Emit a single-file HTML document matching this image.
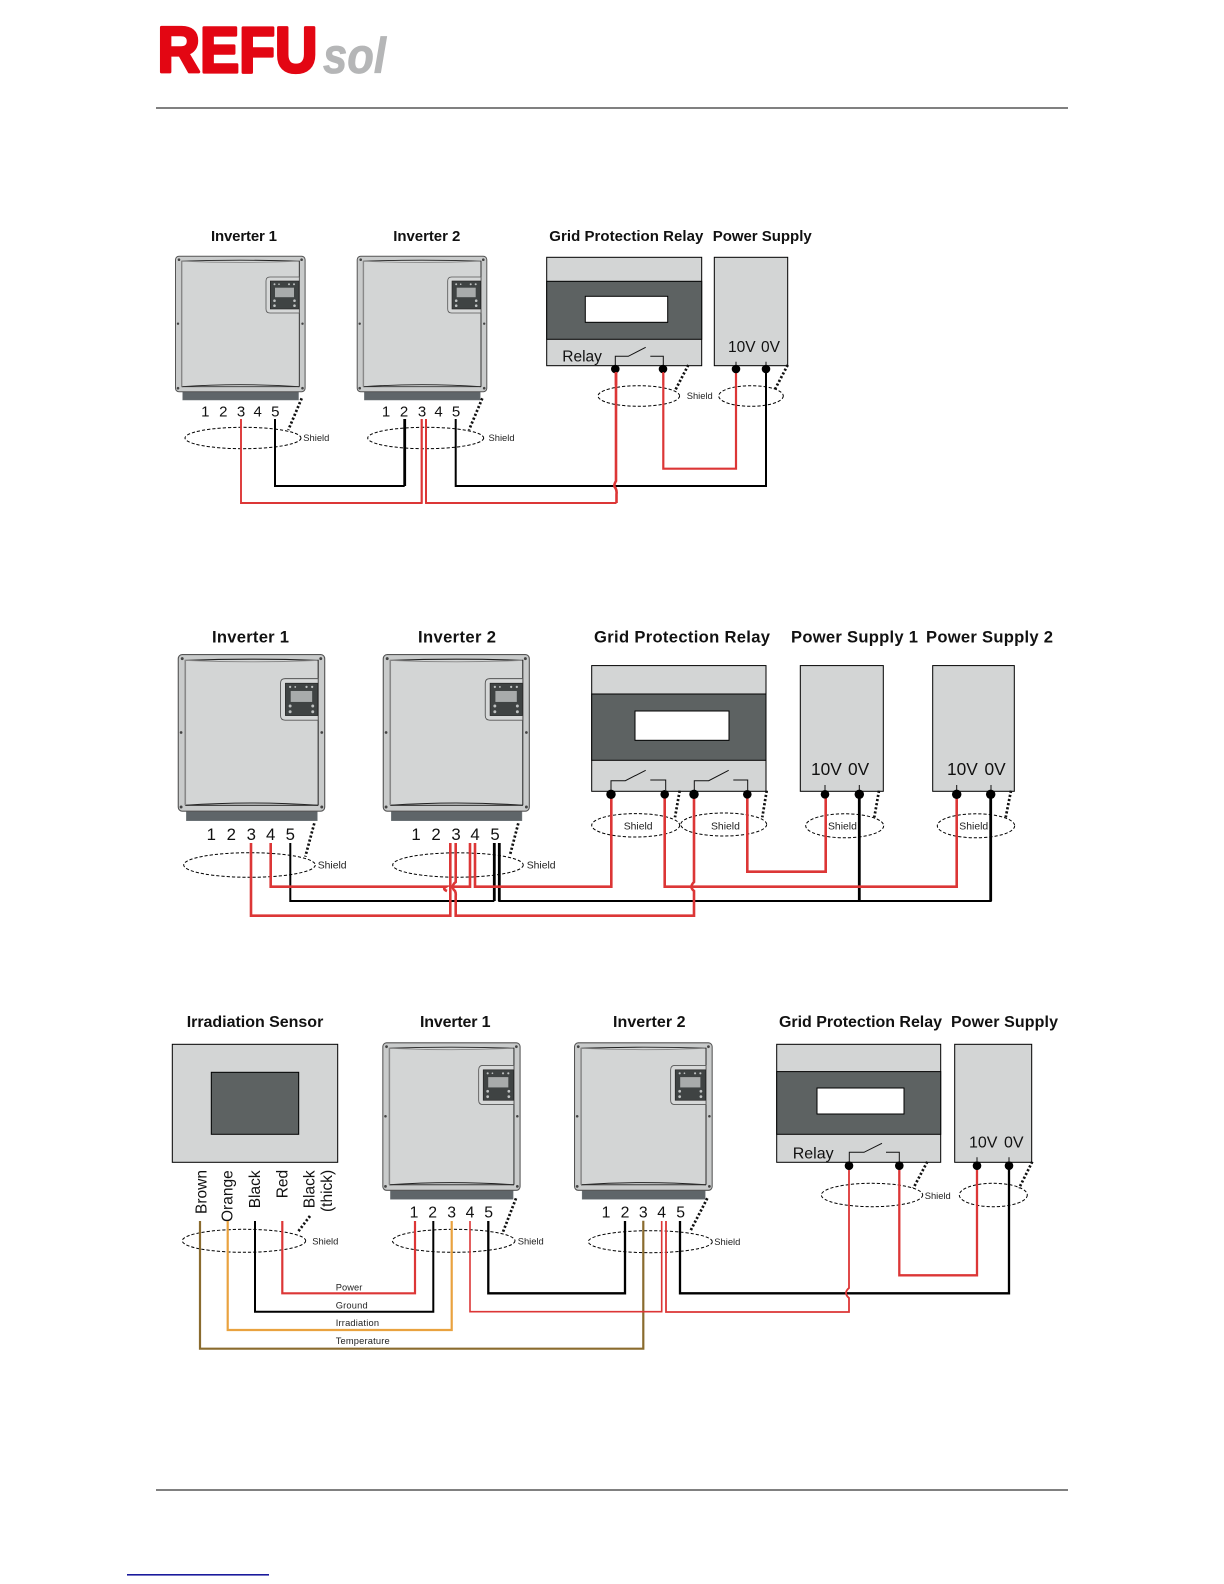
<!DOCTYPE html>
<html><head><meta charset="utf-8"><title>Wiring diagrams</title>
<style>
html,body{margin:0;padding:0;background:#fff}
svg{display:block}
text{font-family:"Liberation Sans",sans-serif;fill:#111}
.t{font-weight:bold;font-size:15px}
.t2{font-weight:bold;font-size:16.6px}
.s{font-size:9.4px;fill:#222}
.s2{font-size:10.4px;fill:#222}
.n{font-size:15px}
.n2{font-size:16.8px}
.n3{font-size:15.8px}
.v{font-size:15.5px}
.v2{font-size:17.3px}
.r{fill:none;stroke:#dc3636;stroke-width:1.9}
.rt{fill:none;stroke:#dc3636;stroke-width:2.6}
.k{fill:none;stroke:#000;stroke-width:2}
.kt{fill:none;stroke:#000;stroke-width:2.8}
.e{fill:none;stroke:#000;stroke-width:1;stroke-dasharray:3.2 2}
.d{fill:none;stroke:#111;stroke-width:2.7;stroke-dasharray:2.2 2}
.b{fill:#d3d5d5;stroke:#000;stroke-width:1}
.dk{fill:#5d6262;stroke:#000;stroke-width:1}
.wh{fill:#fff;stroke:#000;stroke-width:1}
.sw{fill:none;stroke:#111;stroke-width:1}
</style></head>
<body>
<svg xmlns="http://www.w3.org/2000/svg" width="1224" height="1584" viewBox="0 0 1224 1584">
<defs>
<g id="inv">
<rect x="7.7" y="134" width="115.8" height="10.3" fill="#5f6569" stroke="#6d7478" stroke-width=".5"/>
<rect x=".5" y=".5" width="129.6" height="135.6" rx="3.5" fill="#c9cbcb" stroke="#555" stroke-width="1"/>
<rect x="6.7" y="5" width="117.6" height="126" fill="#d3d5d5"/>
<path d="M6.7 5.5Q65 3.5 124.3 5.5" fill="none" stroke="#222" stroke-width=".9"/>
<path d="M6.7 5.5Q65 8 124.3 5.5" fill="none" stroke="#888" stroke-width=".8"/>
<path d="M6.7 131Q65 127 124.3 131" fill="none" stroke="#222" stroke-width=".9"/>
<path d="M6.7 131H124.3" fill="none" stroke="#333" stroke-width=".9"/>
<path d="M6.7 5V131" fill="none" stroke="#888" stroke-width="1.4"/>
<path d="M124.3 5V131" fill="none" stroke="#222" stroke-width=".9"/>
<path d="M124.3 21.3H95Q91 21.3 91 25.3V53.3Q91 57.3 95 57.3H124.3Z" fill="#d6d8d8" stroke="#555" stroke-width=".8"/>
<rect x="95.3" y="25.3" width="28.7" height="28" fill="#3f4343" stroke="#222" stroke-width=".6"/>
<rect x="100" y="32" width="19" height="9.5" fill="#a8abab"/>
<g fill="#bfc2c2">
<circle cx="99.5" cy="28.5" r="1"/><circle cx="104" cy="28.5" r=".8"/><circle cx="114" cy="28.5" r="1"/><circle cx="119" cy="28.5" r="1"/>
<circle cx="99.5" cy="45" r="1.3"/><circle cx="99.5" cy="50" r="1.3"/><circle cx="119.5" cy="45" r="1.3"/><circle cx="119.5" cy="50" r="1.3"/>
</g>
<g fill="#444">
<circle cx="4" cy="4" r="1.3"/><circle cx="126.6" cy="4" r="1.3"/>
<circle cx="3" cy="68" r="1.2"/><circle cx="127.5" cy="68" r="1.2"/>
<circle cx="3" cy="132.5" r="1.3"/><circle cx="127.5" cy="132.5" r="1.3"/>
</g>
</g>
<circle id="p" r="4.3" fill="#000"/>
</defs>
<rect width="1224" height="1584" fill="#fff"/>

<!-- logo -->
<text x="157.5" y="71.8" font-size="64" font-weight="bold" textLength="160" lengthAdjust="spacingAndGlyphs" style="fill:#e30613;stroke:#e30613;stroke-width:3.2;stroke-linejoin:round">REFU</text>
<text x="323" y="73" font-size="50" font-weight="bold" font-style="italic" textLength="63" lengthAdjust="spacingAndGlyphs" style="fill:#b5b6b7;stroke:#b5b6b7;stroke-width:.8">sol</text>
<rect x="156" y="107" width="912" height="2" fill="#808080"/>
<rect x="156" y="1489" width="912" height="2" fill="#808080"/>
<rect x="127" y="1574" width="142" height="1.6" fill="#1a1a9c"/>

<!-- DIAGRAM 1 -->
<text class="t" x="211" y="241" textLength="66" lengthAdjust="spacing">Inverter 1</text>
<text class="t" x="393.3" y="241" textLength="67" lengthAdjust="spacing">Inverter 2</text>
<text class="t" x="549.3" y="241" textLength="154" lengthAdjust="spacing">Grid Protection Relay</text>
<text class="t" x="712.7" y="241" textLength="99" lengthAdjust="spacing">Power Supply</text>
<use href="#inv" transform="translate(175 255.7)"/>
<use href="#inv" transform="translate(356.7 255.7)"/>
<g text-anchor="middle">
<text class="n" x="205.3" y="416.7">1</text><text class="n" x="223.3" y="416.7">2</text><text class="n" x="241" y="416.7">3</text><text class="n" x="257.7" y="416.7">4</text><text class="n" x="275.3" y="416.7">5</text>
<text class="n" x="386" y="416.7">1</text><text class="n" x="404" y="416.7">2</text><text class="n" x="422" y="416.7">3</text><text class="n" x="438.5" y="416.7">4</text><text class="n" x="456" y="416.7">5</text>
</g>
<rect class="b" x="546.7" y="257.3" width="155" height="108.4"/>
<rect class="dk" x="546.7" y="281.3" width="155" height="58"/>
<rect class="wh" x="585.3" y="296.3" width="82.4" height="26"/>
<text class="v" x="562.3" y="361.7">Relay</text>
<path class="sw" d="M615.3 365.7V356.3H628.3L645.7 347.3M650.3 356.3H663.3V365.7"/>
<rect class="b" x="714.3" y="257.3" width="73.4" height="108.4"/>
<text class="v" x="728" y="352">10V</text><text class="v" x="761" y="352">0V</text>
<path class="sw" d="M736 361.7V369M766 361.7V369"/>
<path class="d" d="M301.7 398.3L288.3 430M482.3 398.3L469 430M688.3 365L675 390.7M787.7 365L775 389.3"/>
<ellipse class="e" cx="243" cy="438" rx="58" ry="10.7"/>
<ellipse class="e" cx="425.7" cy="438" rx="58" ry="10.7"/>
<ellipse class="e" cx="638.8" cy="396" rx="40.8" ry="10.3"/>
<ellipse class="e" cx="751" cy="396" rx="32.3" ry="10.3"/>
<text class="s" x="303.3" y="441">Shield</text>
<text class="s" x="488.5" y="441">Shield</text>
<text class="s" x="686.7" y="399">Shield</text>
<path class="k" d="M275 419V486H404.7"/>
<path class="kt" d="M404.7 419V486"/>
<path class="k" d="M455.7 419V486H766V369"/>
<path class="r" d="M241 419V503H421.7V419"/>
<path class="rt" d="M616 369V481Q613 486 615.5 488Q617 491 616.5 494V503"/>
<path class="r" d="M426 419V503H616.5"/>
<path class="rt" d="M421.7 419V503M426 419V503" style="stroke-width:2"/>
<path class="r" d="M663.3 369V468.7H736V369" style="stroke-width:2.2"/>
<use href="#p" x="615.3" y="369"/><use href="#p" x="663" y="369"/><use href="#p" x="736" y="369"/><use href="#p" x="766" y="369"/>
<path class="rt" d="M616 372V385"/>
<path class="r" d="M663.3 372V385"/>

<!-- DIAGRAM 2 -->
<text class="t2" x="212" y="642.4" textLength="77" lengthAdjust="spacing">Inverter 1</text>
<text class="t2" x="418" y="642.4" textLength="78" lengthAdjust="spacing">Inverter 2</text>
<text class="t2" x="594" y="642.4" textLength="176" lengthAdjust="spacing">Grid Protection Relay</text>
<text class="t2" x="791" y="642.4" textLength="127" lengthAdjust="spacing">Power Supply 1</text>
<text class="t2" x="926" y="642.4" textLength="127" lengthAdjust="spacing">Power Supply 2</text>
<use href="#inv" transform="translate(177.7 654) scale(1.13 1.155)"/>
<use href="#inv" transform="translate(382.7 654) scale(1.127 1.155)"/>
<g text-anchor="middle">
<text class="n2" x="211.3" y="840">1</text><text class="n2" x="231.3" y="840">2</text><text class="n2" x="251.3" y="840">3</text><text class="n2" x="270.7" y="840">4</text><text class="n2" x="290.3" y="840">5</text>
<text class="n2" x="416" y="840">1</text><text class="n2" x="436" y="840">2</text><text class="n2" x="456" y="840">3</text><text class="n2" x="475" y="840">4</text><text class="n2" x="495" y="840">5</text>
</g>
<rect class="b" x="591.7" y="665.6" width="174.3" height="125.7"/>
<rect class="dk" x="591.7" y="694" width="174.3" height="66.3"/>
<rect class="wh" x="635" y="711" width="94" height="29.3"/>
<path class="sw" d="M611 790V780.7H625.3L645.7 770.3M650.3 780H665.7V790M694.3 790V780.7H708.7L728.7 770.3M733.3 780H747.7V790"/>
<rect class="b" x="800.3" y="665.6" width="83" height="125.7"/>
<rect class="b" x="932.7" y="665.6" width="81.6" height="125.7"/>
<text class="v2" x="811" y="775">10V</text><text class="v2" x="848" y="775">0V</text>
<text class="v2" x="947" y="775">10V</text><text class="v2" x="984.5" y="775">0V</text>
<path class="sw" d="M825 785V794M859.3 785V794M956.7 785V794M991 785V794"/>
<path class="d" d="M314.3 823.3L305.3 856.7M518.3 823.3L510 855M679.7 790.7L675 817.3M766.7 790.7L762.3 817.3M879 790.7L874.3 817.3M1011 790.7L1005.7 817.3"/>
<ellipse class="e" cx="249.5" cy="865" rx="65.8" ry="12.3"/>
<ellipse class="e" cx="458" cy="865" rx="65.3" ry="12.2"/>
<ellipse class="e" cx="635.7" cy="825.3" rx="44" ry="11.7"/>
<ellipse class="e" cx="723.7" cy="824.5" rx="43" ry="11.5"/>
<ellipse class="e" cx="844.7" cy="825.8" rx="39" ry="12"/>
<ellipse class="e" cx="976" cy="825.8" rx="38.7" ry="12"/>
<text class="s2" x="317.7" y="868.7">Shield</text>
<text class="s2" x="526.7" y="868.7">Shield</text>
<text class="s2" x="623.7" y="829.3">Shield</text>
<text class="s2" x="711" y="829.3">Shield</text>
<text class="s2" x="828" y="829.3">Shield</text>
<text class="s2" x="959.3" y="829.3">Shield</text>
<path class="k" d="M290.3 843V901H494.3M499.3 843V901H990.7V794"/>
<path class="kt" d="M494.3 843V901M499.3 843V901M859.3 794V901M990.7 794V901"/>
<path class="rt" d="M251 843V915.7H450.3V843M270.7 843V886.7H446Q442 889 447 891M450 886.7H470V843M475 843V886.7H611.3V794"/>
<path class="rt" d="M455.7 843V882Q450 886.7 455 891Q456 893 455.7 896V915.7H694V891Q689 887 694 882V794"/>
<path class="rt" d="M664.7 794V886.7H956.7V794"/>
<path class="rt" d="M747.3 794V871.7H825.7V794"/>
<use href="#p" transform="translate(611 794.3) scale(1.1)"/><use href="#p" x="664.7" y="794.3"/><use href="#p" transform="translate(694 794.3) scale(1.1)"/><use href="#p" x="747.3" y="794.3"/>
<use href="#p" x="825" y="794.3"/><use href="#p" transform="translate(859.3 794.3) scale(1.1)"/><use href="#p" transform="translate(956.7 794.3) scale(1.1)"/><use href="#p" transform="translate(990.7 794.3) scale(1.1)"/>

<!-- DIAGRAM 3 -->
<text class="t2" x="186.7" y="1027" textLength="136.6" lengthAdjust="spacing" style="font-size:16px">Irradiation Sensor</text>
<text class="t2" x="420" y="1027" textLength="70.5" lengthAdjust="spacing" style="font-size:16px">Inverter 1</text>
<text class="t2" x="613" y="1027" textLength="72.5" lengthAdjust="spacing" style="font-size:16px">Inverter 2</text>
<text class="t2" x="779" y="1027" textLength="163" lengthAdjust="spacing" style="font-size:16px">Grid Protection Relay</text>
<text class="t2" x="951" y="1027" textLength="107" lengthAdjust="spacing" style="font-size:16px">Power Supply</text>
<rect class="b" x="172.3" y="1044.3" width="165.4" height="118"/>
<rect class="dk" x="211.3" y="1072.3" width="87.4" height="62"/>
<use href="#inv" transform="translate(382.3 1042.3) scale(1.059 1.0875)"/>
<use href="#inv" transform="translate(574 1042.3) scale(1.062 1.0875)"/>
<g text-anchor="middle">
<text class="n3" x="414" y="1217.7">1</text><text class="n3" x="432.7" y="1217.7">2</text><text class="n3" x="451.7" y="1217.7">3</text><text class="n3" x="470" y="1217.7">4</text><text class="n3" x="488.7" y="1217.7">5</text>
<text class="n3" x="606" y="1217.7">1</text><text class="n3" x="625" y="1217.7">2</text><text class="n3" x="643.3" y="1217.7">3</text><text class="n3" x="661.7" y="1217.7">4</text><text class="n3" x="680.7" y="1217.7">5</text>
</g>
<text style="font-size:15.5px" transform="translate(206.5 1214) rotate(-90)">Brown</text>
<text style="font-size:15.5px" transform="translate(232.7 1222) rotate(-90)">Orange</text>
<text style="font-size:15.5px" transform="translate(260 1208.3) rotate(-90)">Black</text>
<text style="font-size:15.5px" transform="translate(287.7 1198.3) rotate(-90)">Red</text>
<text style="font-size:15.5px" transform="translate(314.3 1208.3) rotate(-90)">Black</text>
<text style="font-size:15.5px" transform="translate(332 1212) rotate(-90)">(thick)</text>
<rect class="b" x="776.7" y="1044.3" width="164" height="118"/>
<rect class="dk" x="776.7" y="1071.6" width="164" height="62.7"/>
<rect class="wh" x="817" y="1088" width="87" height="26"/>
<text x="792.7" y="1158.3" font-size="16">Relay</text>
<path class="sw" d="M849.3 1162.3V1152.3H864L882 1143.3M886 1152.3H899.3V1162.3"/>
<rect class="b" x="954.7" y="1044.3" width="77" height="118"/>
<text x="969" y="1147.3" font-size="16">10V</text><text x="1004" y="1147.3" font-size="16">0V</text>
<path class="sw" d="M977 1157.3V1165M1009 1157.3V1165"/>
<path class="d" d="M310 1216L297.3 1232.7M516 1198.3L502.7 1232.7M707.3 1198.3L690 1231.7M927.3 1161.7L913.3 1188.3M1032.3 1161.7L1019 1188.3"/>
<ellipse class="e" cx="244" cy="1240.8" rx="61.7" ry="11.5"/>
<ellipse class="e" cx="453.7" cy="1240.8" rx="61.3" ry="11.5"/>
<ellipse class="e" cx="650.3" cy="1241.7" rx="62" ry="11"/>
<ellipse class="e" cx="872" cy="1195" rx="50.7" ry="11.7"/>
<ellipse class="e" cx="993.3" cy="1195" rx="34" ry="11.7"/>
<text class="s" x="312.3" y="1244.7">Shield</text>
<text class="s" x="517.7" y="1244.7">Shield</text>
<text class="s" x="714.3" y="1245">Shield</text>
<text class="s" x="924.7" y="1199">Shield</text>
<path fill="none" stroke="#8a6b2e" stroke-width="2.2" d="M200 1221V1348.7H643.3V1220.7"/>
<path fill="none" stroke="#e9a23f" stroke-width="2.2" d="M227.7 1221V1330H451.7V1221"/>
<path class="k" d="M255 1221V1311.7H433.3V1221"/>
<path class="rt" d="M282.3 1221V1293.3H415V1221" style="stroke-width:2.2"/>
<path class="r" d="M470 1221V1311.7H661.7V1221" style="stroke-width:1.6"/>
<path class="k" d="M488.3 1221V1293.3H625V1221" style="stroke-width:2.3"/>
<path class="k" d="M680 1221V1293.3H1009V1165.7" style="stroke-width:2.3"/>
<path class="r" d="M666 1221V1312H849V1298Q843 1293 849 1288V1165.7" style="stroke-width:1.8"/>
<path class="rt" d="M899.3 1165.7V1275.3H977V1165.7" style="stroke-width:2.3"/>
<use href="#p" x="849" y="1165.7"/><use href="#p" x="899.3" y="1165.7"/><use href="#p" x="977" y="1165.7"/><use href="#p" x="1009" y="1165.7"/>
<text class="s" style="font-size:9.3px" x="335.7" y="1290.7" textLength="26.7" lengthAdjust="spacing">Power</text>
<text class="s" style="font-size:9.3px" x="335.7" y="1308.3" textLength="32" lengthAdjust="spacing">Ground</text>
<text class="s" style="font-size:9.3px" x="335.7" y="1326" textLength="43.3" lengthAdjust="spacing">Irradiation</text>
<text class="s" style="font-size:9.3px" x="335.7" y="1344" textLength="54" lengthAdjust="spacing">Temperature</text>
</svg>
</body></html>
